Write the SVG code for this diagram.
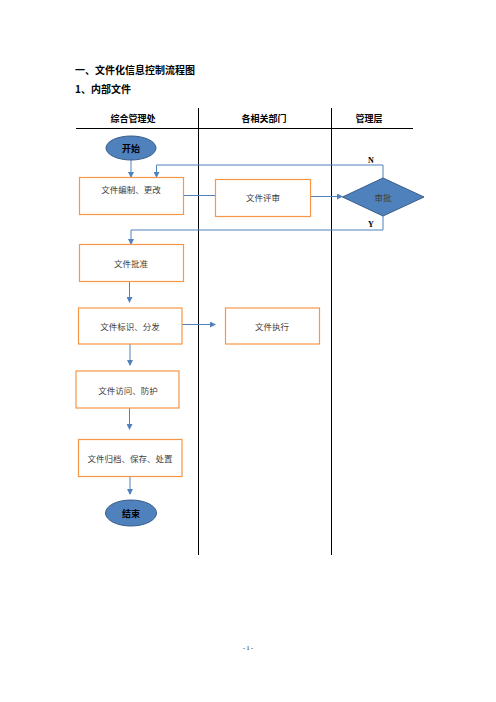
<svg xmlns="http://www.w3.org/2000/svg" width="496" height="702" viewBox="0 0 496 702">
<style>
.title{font-family:"Noto Sans CJK SC","Liberation Sans",sans-serif;font-weight:bold;font-size:10px;fill:#000}
.hdr{font-family:"Noto Sans CJK SC","Liberation Sans",sans-serif;font-weight:bold;font-size:9px;fill:#000;text-anchor:middle}
.box{fill:#fff;stroke:#F79646;stroke-width:1.2}
.bt{font-family:"Noto Sans CJK SC","Liberation Sans",sans-serif;font-size:8.5px;fill:#404040;text-anchor:middle;dominant-baseline:central}
.term{fill:#4F81BD;stroke:#385D8A;stroke-width:1}
.tt{font-family:"Noto Sans CJK SC","Liberation Sans",sans-serif;font-weight:bold;font-size:9px;fill:#000;text-anchor:middle;dominant-baseline:central}
.con{fill:none;stroke:#4F81BD;stroke-width:1}
.lane{stroke:#000;stroke-width:1}
.lbl{font-family:"Liberation Serif",serif;font-weight:bold;font-size:8px;fill:#000;text-anchor:middle}
</style>
<defs>
<marker id="ah" markerWidth="6" markerHeight="6" refX="5" refY="3" orient="auto" markerUnits="userSpaceOnUse">
<path d="M0,0 L6,3 L0,6 Z" fill="#4F81BD"/>
</marker>
</defs>
<rect width="496" height="702" fill="#fff"/>
<g id="title">
<text class="title" x="75" y="74">一、文件化信息控制流程图</text>
<text class="title" x="75" y="93">1、内部文件</text>
</g>
<g id="lanes">
<line class="lane" x1="76" y1="128.5" x2="413" y2="128.5" stroke-width="2"/>
<line class="lane" x1="198.5" y1="108" x2="198.5" y2="555"/>
<line class="lane" x1="331.5" y1="108" x2="331.5" y2="555"/>
<text class="hdr" x="133" y="122">综合管理处</text>
<text class="hdr" x="264" y="122">各相关部门</text>
<text class="hdr" x="369" y="122">管理层</text>
</g>
<g id="connectors">
<line class="con" x1="131" y1="160" x2="131" y2="177" marker-end="url(#ah)"/>
<polyline class="con" points="383,178 383,165 156.5,165 156.5,177" marker-end="url(#ah)"/>
<line class="con" x1="183" y1="195.5" x2="215" y2="195.5"/>
<line class="con" x1="310" y1="196.5" x2="342" y2="196.5" marker-end="url(#ah)"/>
<polyline class="con" points="383,216 383,230 131,230 131,244" marker-end="url(#ah)"/>
<line class="con" x1="129.5" y1="281" x2="129.5" y2="302" marker-end="url(#ah)"/>
<line class="con" x1="182" y1="324.5" x2="215" y2="324.5" marker-end="url(#ah)"/>
<line class="con" x1="130" y1="344" x2="130" y2="365" marker-end="url(#ah)"/>
<line class="con" x1="129.5" y1="408" x2="129.5" y2="429" marker-end="url(#ah)"/>
<line class="con" x1="130" y1="476" x2="130" y2="494" marker-end="url(#ah)"/>
<text class="lbl" x="371" y="163">N</text>
<text class="lbl" x="371" y="227">Y</text>
</g>
<g id="start">
<ellipse class="term" cx="131" cy="148" rx="25" ry="12"/>
<text class="tt" x="131" y="148">开始</text>
</g>
<g id="n1">
<rect class="box" x="79.5" y="177.5" width="104" height="37"/>
<text class="bt" x="131" y="189">文件编制、更改</text>
</g>
<g id="n2">
<rect class="box" x="215.5" y="179.5" width="95" height="37"/>
<text class="bt" x="263" y="197">文件评审</text>
</g>
<g id="n3">
<path class="term" d="M342.5,197 L383,178 L424,197 L383,216 Z"/>
<text class="bt" x="383" y="197" fill="#222">审批</text>
</g>
<g id="n4">
<rect class="box" x="79.5" y="244.5" width="104" height="37"/>
<text class="bt" x="131" y="263">文件批准</text>
</g>
<g id="n5">
<rect class="box" x="78.5" y="308" width="103.5" height="36"/>
<text class="bt" x="130" y="326">文件标识、分发</text>
</g>
<g id="n6">
<rect class="box" x="225.5" y="308" width="94" height="36"/>
<text class="bt" x="272" y="326">文件执行</text>
</g>
<g id="n7">
<rect class="box" x="76" y="371" width="103" height="37"/>
<text class="bt" x="128" y="389.5">文件访问、防护</text>
</g>
<g id="n8">
<rect class="box" x="78.5" y="439.5" width="103.5" height="37"/>
<text class="bt" x="130" y="458">文件归档、保存、处置</text>
</g>
<g id="end">
<ellipse class="term" cx="131" cy="513" rx="25.5" ry="13"/>
<text class="tt" x="131" y="513">结束</text>
</g>
<text x="248" y="650" font-family="Liberation Serif,serif" font-size="6" text-anchor="middle" fill="#000">- 1 -</text>
</svg>
